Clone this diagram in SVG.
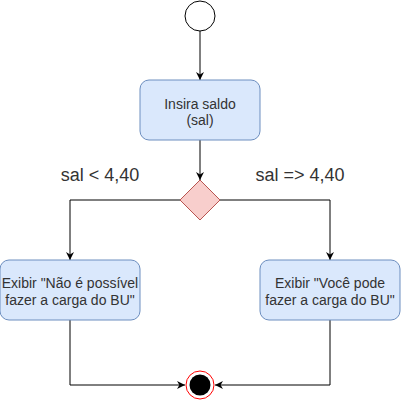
<svg xmlns="http://www.w3.org/2000/svg" width="401" height="401" viewBox="0 0 401 401">
<style>
.box{fill:#dae8fc;stroke:#6c8ebf;stroke-width:1}
.t{font-family:"Liberation Sans",Arial,sans-serif;font-size:14px;fill:#333;text-anchor:middle}
.lbl{font-family:"Liberation Sans",Arial,sans-serif;font-size:18px;fill:#333;text-anchor:middle}
.edge{fill:none;stroke:#000;stroke-width:1}
</style>
<defs>
<marker id="arr" viewBox="0 0 10 10" refX="10" refY="5" markerWidth="8" markerHeight="8" markerUnits="userSpaceOnUse" orient="auto">
<path d="M0,0 L10,5 L0,10 L3,5 Z" fill="#000"/>
</marker>
</defs>
<rect width="401" height="401" fill="#fff"/>
<g id="connectors">
<path class="edge" d="M200,31 V80" marker-end="url(#arr)"/>
<path class="edge" d="M200,140 V180" marker-end="url(#arr)"/>
<path class="edge" d="M180,200 H70 V260" marker-end="url(#arr)"/>
<path class="edge" d="M220,200 H330 V260" marker-end="url(#arr)"/>
<path class="edge" d="M70,320 V385 H185" marker-end="url(#arr)"/>
<path class="edge" d="M330,320 V385 H215" marker-end="url(#arr)"/>
</g>
<g id="start"><circle cx="200" cy="16" r="15" fill="#fff" stroke="#000"/></g>
<g id="insira">
<rect class="box" x="140" y="80" width="120" height="60" rx="9"/>
<text class="t" x="200" y="109">Insira saldo</text>
<text class="t" x="200" y="125">(sal)</text>
</g>
<g id="decision"><path d="M200,180 L220,200 L200,220 L180,200 Z" fill="#f8cecc" stroke="#b85450"/></g>
<g id="labels">
<text class="lbl" x="100" y="181">sal &lt; 4,40</text>
<text class="lbl" x="300" y="181">sal =&gt; 4,40</text>
</g>
<g id="naopossivel">
<rect class="box" x="0" y="260" width="140" height="60" rx="9"/>
<text class="t" x="70" y="288">Exibir "Não é possível</text>
<text class="t" x="70" y="305">fazer a carga do BU"</text>
</g>
<g id="vocepode">
<rect class="box" x="260" y="260" width="140" height="60" rx="9"/>
<text class="t" x="330" y="288">Exibir "Você pode</text>
<text class="t" x="330" y="305">fazer a carga do BU"</text>
</g>
<g id="end">
<circle cx="200" cy="385" r="14" fill="#fff" stroke="#ff0000"/>
<circle cx="200" cy="385" r="10.5" fill="#000"/>
</g>
</svg>
